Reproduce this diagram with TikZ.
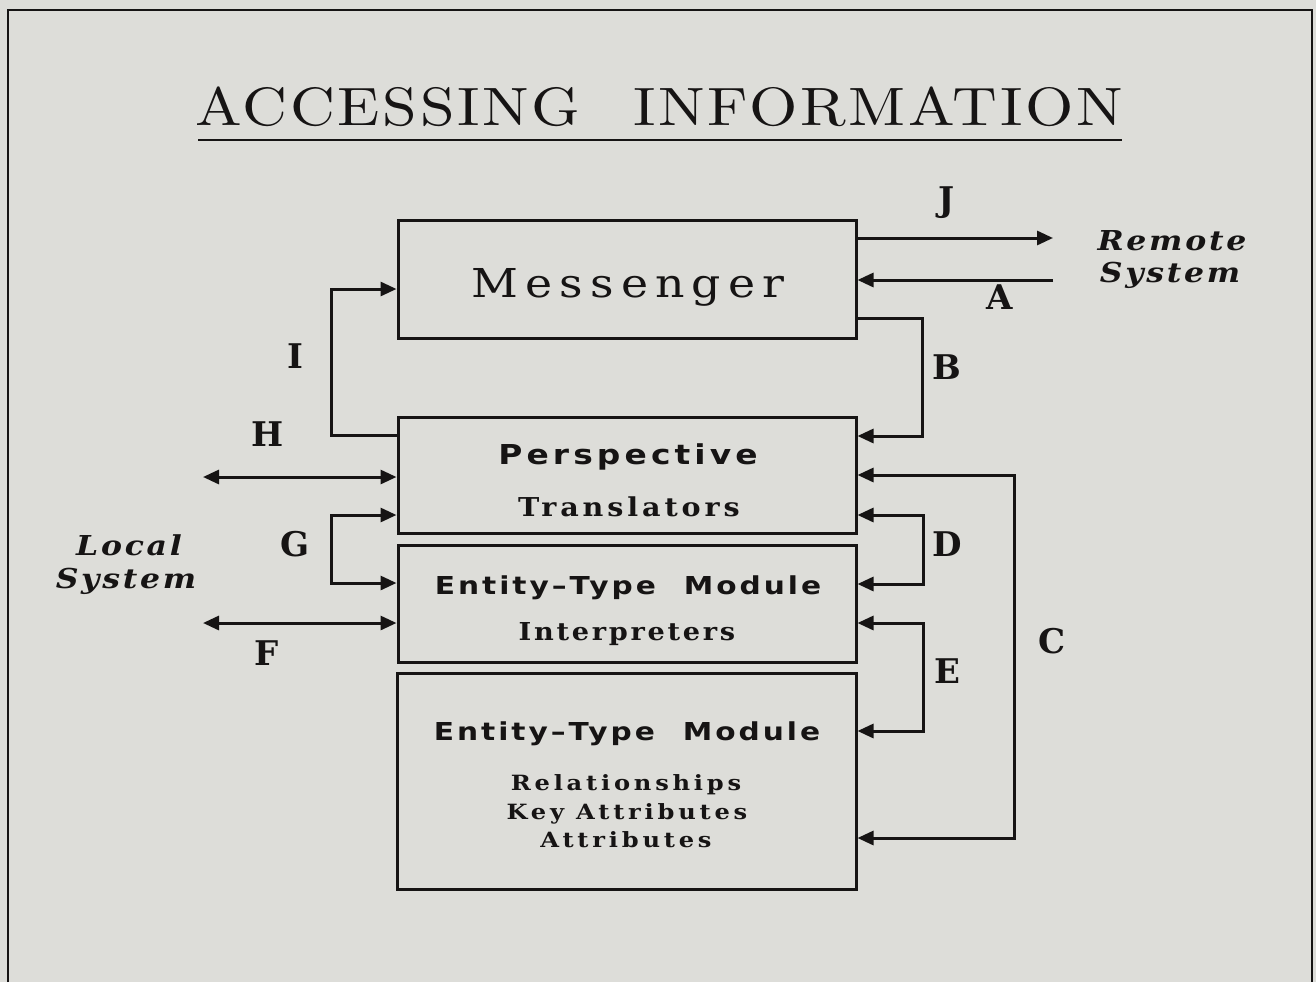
\documentclass[tikz,border=0pt]{standalone}
\usepackage{fontspec}
\usetikzlibrary{arrows.meta,calc}
\definecolor{bg}{RGB}{221,221,217}
\definecolor{ink}{RGB}{22,20,20}
\newfontfamily\titlefont[LetterSpace=5,FakeStretch=1.15]{lmroman10-regular.otf}
\newfontfamily\msgfont[LetterSpace=18,FakeStretch=1.15]{DejaVu Serif}
\newfontfamily\boxsans[LetterSpace=15,FakeStretch=1.2]{DejaVu Sans}
\newfontfamily\entfont[LetterSpace=12,FakeStretch=1.2]{DejaVu Sans}
\newfontfamily\slabfont[LetterSpace=15,FakeStretch=1.1]{DejaVu Serif}
\newfontfamily\slabtight[LetterSpace=11,FakeStretch=1.1]{DejaVu Serif}
\newfontfamily\smallfont[LetterSpace=18,FakeStretch=1.15]{DejaVu Serif}
\newfontfamily\labfont{DejaVu Serif}
\newfontfamily\italfont[LetterSpace=10,FakeStretch=1.15]{DejaVu Serif}
\begin{document}
\begin{tikzpicture}[x=1pt,y=-1pt,
  box/.style={draw=ink,line width=3pt,minimum width=458pt,inner sep=0pt},
  tip/.tip={Triangle[length=16pt,width=14pt]},
  conn/.style={draw=ink,line width=3pt,-tip},
  bconn/.style={draw=ink,line width=3pt,tip-tip},
  lab/.style={text=ink,anchor=base,inner sep=0pt,font=\labfont\bfseries\fontsize{34}{34}\selectfont},
  txt/.style={text=ink,anchor=base,inner sep=0pt},
  head/.style={txt,font=\entfont\bfseries\fontsize{24.7}{26}\selectfont},
  sub/.style={txt,font=\slabfont\bfseries\fontsize{26}{28}\selectfont},
  subb/.style={txt,font=\slabtight\bfseries\fontsize{24.7}{28}\selectfont},
  small/.style={txt,font=\smallfont\bfseries\fontsize{21}{22}\selectfont},
  ital/.style={txt,font=\italfont\bfseries\itshape\fontsize{27.4}{30}\selectfont}
]
\fill[bg] (0,0) rectangle (1316,982);
\useasboundingbox (0,0) rectangle (1316,982);
% frame
\draw[ink,line width=2pt] (8,982) -- (8,10) -- (1312,10) -- (1312,982);
% title
\node[txt,font=\titlefont\fontsize{54}{60}\selectfont] (title) at (659,125) {ACCESSING\hspace{53pt}INFORMATION};
\draw[ink,line width=2.2pt] (198,140) -- (1122,140);
% boxes
\node[box,minimum height=118pt] (msg) at (627,279) {};
\node[box,minimum height=116pt] (per) at (627,475) {};
\node[box,minimum height=117pt] (ent) at (627,603.5) {};
\node[box,minimum width=459pt,minimum height=216pt] (low) at (626.5,781) {};
% box texts
\node[txt,font=\msgfont\fontsize{39.8}{42}\selectfont] (msgT) at (628,297) {Messenger};
\node[txt,font=\boxsans\bfseries\fontsize{27.4}{30}\selectfont] (perT) at (628,464) {Perspective};
\node[sub] (perS) at (629,516) {Translators};
\node[head] (entT) at (628,594) {Entity\textendash Type\hspace{28pt}Module};
\node[subb] (entS) at (627,640) {Interpreters};
\node[head] (lowT) at (627,740) {Entity\textendash Type\hspace{28pt}Module};
\node[small] (lowA) at (626,790) {Relationships};
\node[small] (lowB) at (627,819) {Key Attributes};
\node[small] (lowC) at (626,847) {Attributes};
% side texts
\node[ital] (remA) at (1172,250) {Remote};
\node[ital] (remB) at (1170,282) {System};
\node[ital] (locA) at (129,555) {Local};
\node[ital] (locB) at (126,588) {System};
% free ends
\coordinate (jend) at (1053,238);
\coordinate (aend) at (1053,280);
\coordinate (hend) at (203,477);
\coordinate (fend) at (203,623);
% connectors
\draw[conn] ($(msg.east)+(0,-41)$) -- (jend);
\draw[conn] (aend) -- ($(msg.east)+(0,1)$);
\draw[conn] ($(msg.east)+(0,39)$) -- ++(65,0) |- ($(per.east)+(0,-39)$);
\draw[conn] ($(per.west)+(0,-40)$) -- ++(-65,0) |- ($(msg.west)+(0,10)$);
\draw[bconn] (hend) -- ($(per.west)+(0,2)$);
\draw[bconn] ($(per.west)+(0,40)$) -- ++(-65,0) |- ($(ent.west)+(0,-20.5)$);
\draw[bconn] (fend) -- ($(ent.west)+(0,19.5)$);
\draw[bconn] ($(per.east)+(0,0)$) -- ++(157,0) |- ($(low.east)+(0,57)$);
\draw[bconn] ($(per.east)+(0,40)$) -- ++(66,0) |- ($(ent.east)+(0,-19.5)$);
\draw[bconn] ($(ent.east)+(0,19.5)$) -- ++(66,0) |- ($(low.east)+(0,-50)$);
% labels
\node[lab] (lJ) at (947,211) {J};
\node[lab] (lA) at (1000,309) {A};
\node[lab] (lB) at (947,379) {B};
\node[lab] (lI) at (295,368) {I};
\node[lab] (lH) at (268,446) {H};
\node[lab] (lG) at (295,556) {G};
\node[lab] (lF) at (267,665) {F};
\node[lab] (lD) at (947,556) {D};
\node[lab] (lE) at (947,683) {E};
\node[lab] (lC) at (1052,653) {C};
\end{tikzpicture}
\end{document}
